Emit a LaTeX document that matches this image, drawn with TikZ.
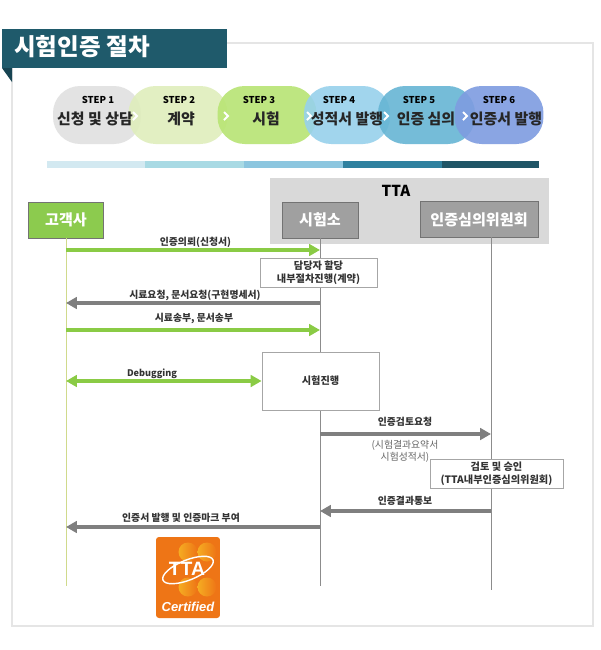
\documentclass[tikz,border=0pt]{standalone}
\usepackage{fontspec}
\setmainfont{Noto Sans CJK KR}
\newfontfamily\logofont{Liberation Sans}
\usetikzlibrary{arrows.meta}
\definecolor{bannerblue}{HTML}{1F5A6B}
\definecolor{bannerdark}{HTML}{174452}
\definecolor{clientgreen}{HTML}{8CCB4E}
\definecolor{msggreen}{HTML}{8ACB45}
\definecolor{msggray}{HTML}{7F7F7F}
\definecolor{actorgray}{HTML}{A0A0A0}
\definecolor{ttagray}{HTML}{D9D9D9}
\definecolor{logoorange}{HTML}{EE7516}
\definecolor{logodot}{HTML}{F5AC22}
\definecolor{stepa}{HTML}{E0E0E0}
\definecolor{stepb}{HTML}{DFEEBC}
\definecolor{stepc}{HTML}{B8E474}
\definecolor{stepd}{HTML}{97D1EC}
\definecolor{stepe}{HTML}{66B5D4}
\definecolor{stepf}{HTML}{7E9CE0}
\definecolor{sega}{HTML}{D3E9F1}
\definecolor{segb}{HTML}{A9DAE4}
\definecolor{segc}{HTML}{8CC6DF}
\definecolor{segd}{HTML}{2F819F}
\definecolor{sege}{HTML}{1F5566}
\begin{document}
\begin{tikzpicture}[
    x=0.02cm, y=-0.02cm,
    pill/.style={rectangle, rounded corners=0.54cm, minimum height=1.16cm, fill opacity=0.9, text opacity=1, inner sep=0pt},
    steptag/.style={font=\bfseries\fontsize{5.4}{6}\selectfont, inner sep=0pt},
    steptext/.style={font=\bfseries\fontsize{8.5}{9}\selectfont, inner sep=0pt, text=black!85},
    chevron/.style={white, line width=1.2pt},
    segment/.style={minimum height=0.14cm, inner sep=0pt, outer sep=0pt},
    actor/.style={rectangle, draw=black!55, font=\bfseries\fontsize{8.6}{10}\selectfont, text=white, minimum height=0.72cm, inner sep=0pt},
    lifeline/.style={line width=0.55pt, draw=black!45},
    note/.style={rectangle, draw=black!35, fill=white, line width=0.5pt, font=\bfseries\fontsize{5.8}{7.4}\selectfont, align=center, inner sep=0pt, text=black!80},
    msg/.style={line width=2pt, -{Triangle[length=6.2pt,width=6.6pt]}},
    msglabel/.style={font=\bfseries\fontsize{5.6}{6.6}\selectfont, align=center, inner sep=0pt, text=black!80}
]
    \useasboundingbox (0,0) rectangle (600,650);

    % Panel
    \node[rectangle, draw=black!10, line width=1pt, fill=white, minimum width=11.62cm, minimum height=11.66cm, inner sep=0pt] (panel) at (302.5,334.5) {};

    % Banner
    \fill[bannerdark] (2,68) -- (12,68) -- (12,82) -- cycle;
    \node[rectangle, fill=bannerblue, minimum width=4.5cm, minimum height=0.78cm, inner sep=0pt] (banner) at (114.5,48.5) {};
    \node[font=\bfseries\fontsize{13.4}{14}\selectfont, text=white, inner sep=0pt] (title) at (82,47) {시험인증 절차};

    % Steps
    \node[pill, fill=stepa, minimum width=1.76cm] (step1) at (97,115) {};
    \node[pill, fill=stepb, minimum width=1.98cm] (step2) at (178,115) {};
    \node[pill, fill=stepc, minimum width=1.98cm] (step3) at (267,115) {};
    \node[pill, fill=stepd, minimum width=1.72cm] (step4) at (347,115) {};
    \node[pill, fill=stepe, minimum width=1.94cm] (step5) at (426.5,115) {};
    \node[pill, fill=stepf, minimum width=1.78cm] (step6) at (499,115) {};

    \node[steptag] (tag1) at (98,100) {STEP 1};
    \node[steptag] (tag2) at (179,100) {STEP 2};
    \node[steptag] (tag3) at (259,100) {STEP 3};
    \node[steptag] (tag4) at (339,100) {STEP 4};
    \node[steptag] (tag5) at (419,100) {STEP 5};
    \node[steptag] (tag6) at (499,100) {STEP 6};

    \node[steptext] (text1) at (95,119) {신청 및 상담};
    \node[steptext] (text2) at (181,119) {계약};
    \node[steptext] (text3) at (266,119) {시험};
    \node[steptext] (text4) at (347,119) {성적서 발행};
    \node[steptext] (text5) at (426,119) {인증 심의};
    \node[steptext] (text6) at (506,119) {인증서 발행};

    % Chevrons
    \draw[chevron] (133,112) -- (137,116) -- (133,120);
    \draw[chevron] (224,112) -- (228,116) -- (224,120);
    \draw[chevron] (307,112) -- (311,116) -- (307,120);
    \draw[chevron] (384,112) -- (388,116) -- (384,120);
    \draw[chevron] (463,112) -- (467,116) -- (463,120);

    % Progress bar
    \node[segment, fill=sega, minimum width=1.96cm] (seg1) at (96,164.5) {};
    \node[segment, fill=segb, minimum width=1.98cm] (seg2) at (194.5,164.5) {};
    \node[segment, fill=segc, minimum width=1.98cm] (seg3) at (293.5,164.5) {};
    \node[segment, fill=segd, minimum width=1.98cm] (seg4) at (392.5,164.5) {};
    \node[segment, fill=sege, minimum width=1.94cm] (seg5) at (490.5,164.5) {};

    % Actors
    \node[rectangle, fill=ttagray, minimum width=5.58cm, minimum height=1.32cm, inner sep=0pt] (tta) at (409.5,211) {};
    \node[font=\bfseries\fontsize{8.6}{10}\selectfont, inner sep=0pt] (ttalabel) at (396,190.5) {TTA};
    \node[actor, fill=clientgreen, minimum width=1.5cm] (client) at (66,220) {고객사};
    \node[actor, fill=actorgray, minimum width=1.52cm] (lab) at (320,220) {시험소};
    \node[actor, fill=actorgray, minimum width=2.36cm] (board) at (479,219.5) {인증심의위원회};

    % Lifelines
    \coordinate (clientend) at (66,586);
    \coordinate (labend) at (320,586);
    \coordinate (boardtop) at (491,237);
    \coordinate (boardend) at (491,590);
    \draw[lifeline, draw=lime!35!olive!45!white] (client.south) -- (clientend);
    \draw[lifeline] (lab.south) -- (labend);
    \draw[lifeline] (boardtop) -- (boardend);

    % Boxes on the lifelines
    \node[note, minimum width=2.34cm, minimum height=0.58cm] (assign) at (318.5,272.5) {담당자 할당\\내부절차진행(계약)};
    \node[note, minimum width=2.34cm, minimum height=1.16cm] (testing) at (320.5,381) {시험진행};
    \node[note, minimum width=2.66cm, minimum height=0.58cm] (review) at (496.5,473.5) {검토 및 승인\\(TTA내부인증심의위원회)};

    % Messages
    \draw[msg, msggreen] (client |- 0,250) -- (lab |- 0,250);
    \node[msglabel] (request) at (195.5,242.5) {인증의뢰(신청서)};
    \draw[msg, msggray] (lab |- 0,303) -- (client |- 0,303);
    \node[msglabel] (sample) at (195,295) {시료요청, 문서요청(구현명세서)};
    \draw[msg, msggreen] (client |- 0,330) -- (lab |- 0,330);
    \node[msglabel] (send) at (194,318) {시료송부, 문서송부};
    \draw[msg, msggreen, {Triangle[length=6.2pt,width=6.6pt]}-{Triangle[length=6.2pt,width=6.6pt]}] (client |- testing) -- (testing.west);
    \node[msglabel, font=\bfseries\fontsize{5.2}{6.6}\selectfont] (debug) at (152,374) {Debugging};
    \draw[msg, msggray] (lab |- 0,434) -- (boardtop |- 0,434);
    \node[msglabel] (reviewreq) at (405,422) {인증검토요청};
    \node[msglabel, font=\fontsize{5.6}{6.8}\selectfont, text=black!60] (attach) at (405,451) {(시험결과요약서\\시험성적서)};
    \draw[msg, msggray] (boardtop |- 0,511) -- (lab |- 0,511);
    \node[msglabel] (notify) at (405,501) {인증결과통보};
    \draw[msg, msggray] (lab |- 0,527) -- (client |- 0,527);
    \node[msglabel] (issue) at (181,518) {인증서 발행 및 인증마크 부여};

    % Certified mark
    \node[rectangle, rounded corners=0.06cm, fill=logoorange, minimum width=1.28cm, minimum height=1.62cm, inner sep=0pt] (logo) at (188,577.5) {};
    \shade[left color=logodot, right color=logoorange] (188,552) circle (9.5);
    \shade[left color=logodot, right color=logoorange] (207,552) circle (9.5);
    \shade[left color=logodot, right color=logoorange] (188,587) circle (9.5);
    \shade[left color=logodot, right color=logoorange] (207,587) circle (9.5);
    \draw[white, line width=0.8pt, rotate around={22:(188,570)}] (188,570) ellipse (27 and 10);
    \node[font=\logofont\bfseries\fontsize{11}{12}\selectfont, text=white, inner sep=0pt] (logotta) at (187,569) {TTA};
    \node[font=\logofont\bfseries\itshape\fontsize{7.4}{8}\selectfont, text=white, inner sep=0pt] (logocert) at (188,607) {Certified};
\end{tikzpicture}
\end{document}
